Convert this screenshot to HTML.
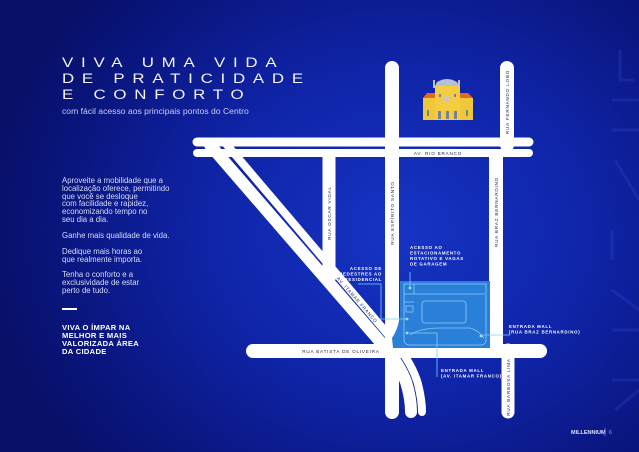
<!DOCTYPE html>
<html><head><meta charset="utf-8"><style>
body{margin:0;width:639px;height:452px;overflow:hidden;font-family:"Liberation Sans",sans-serif;}
#bg{position:absolute;left:0;top:0;width:639px;height:452px;background:radial-gradient(ellipse 420px 360px at 400px 230px,#1634c4 0%,#0f24a8 45%,#0a167f 80%,#070f66 100%);}
.t{position:absolute;color:#fff;white-space:nowrap}
.title{left:62px;font-size:13.5px;letter-spacing:6.2px;line-height:16px;font-weight:normal;transform:scaleX(1.25);transform-origin:left;color:#f2f3ff}
.p{left:62px;font-size:7.8px;line-height:7.8px;color:#d8dcf4}
</style></head><body>
<div id="bg"></div>
<svg width="639" height="452" style="position:absolute;left:0;top:0" font-family="Liberation Sans, sans-serif">
<g fill="none" stroke="#2a48d0" stroke-width="3" opacity="0.3">
<path d="M620 50 v30 h14 M612 100 h27 M612 130 h27 M615 160 l24 40 M612 230 v30 M612 290 l27 20 M612 330 h27 M612 380 h27 M615 410 l24 -20"/>
</g>
<g stroke="#fff" stroke-linecap="round" fill="none">
<line x1="197" y1="142" x2="529" y2="142" stroke-width="9"/>
<line x1="197" y1="153" x2="529" y2="153" stroke-width="8"/>
<line x1="329" y1="150" x2="329" y2="280" stroke-width="13" stroke-linecap="butt"/>
<line x1="392" y1="68" x2="392" y2="412" stroke-width="14"/>
<line x1="507" y1="68" x2="507" y2="145" stroke-width="14"/>
<line x1="496" y1="150" x2="496" y2="345" stroke-width="14" stroke-linecap="butt"/>
<line x1="508" y1="350" x2="508" y2="412" stroke-width="13"/>
<line x1="253" y1="351" x2="540" y2="351" stroke-width="14"/>
<path d="M210 145 L383 345 Q400 365 406 382 Q411 398 411 412" stroke-width="12"/>
<path d="M227 145 L397 345 Q413 366 418 384 Q422 400 422 412" stroke-width="8"/>
</g>
<path d="M400 281 H490 V348 H393 L392 338 Q400 326 400 310 Z" fill="#2a80d8"/>
<g fill="none" stroke="#8fc8f5" stroke-width="0.8">
<path d="M404 284 H486 V340 Q486 345 480 345 H410 Q404 345 404 339 Z"/>
<rect x="422" y="301" width="44" height="22" rx="3"/>
<path d="M414 284 V294 H485"/>
<path d="M404 294 H414 M404 302 H414 M406 306 H413 V312 H406 Z"/>
<path d="M410 335 Q420 328 440 328 H470 Q478 330 484 338"/>
</g>
<g stroke="#7fd0f5" stroke-width="0.8" fill="none">
<path d="M410 287 V272"/>
<path d="M358 284 H381 V319 H407"/>
<path d="M481 335 H510"/>
<path d="M407 333 H437 V377"/>
</g>
<g fill="#9fe0ff"><circle cx="410" cy="288" r="1.4"/><circle cx="407" cy="319" r="1.4"/><circle cx="407" cy="333" r="1.4"/><circle cx="481" cy="336" r="1.4"/></g>
<g>
<path d="M437 82 Q447 76 457 82 L459 86 H435 Z" fill="#b8c0d8"/>
<rect x="433" y="80" width="2" height="8" fill="#b8c0d8"/><rect x="458" y="80" width="2" height="8" fill="#b8c0d8"/>
<rect x="423" y="98" width="50" height="22" fill="#f0c63a"/>
<rect x="435" y="86" width="25" height="34" fill="#f3cc40"/>
<path d="M423 98 L427 93 H435 V98 Z M460 93 H468 L473 98 H460 Z" fill="#e06a20"/>
<circle cx="447" cy="99" r="3" fill="#c9c4d8"/>
<g fill="#7a7f98"><rect x="427" y="110" width="2" height="6"/><rect x="438" y="111" width="3" height="8"/><rect x="446" y="111" width="3" height="8"/><rect x="454" y="111" width="3" height="8"/><rect x="466" y="110" width="2" height="6"/><rect x="439" y="94" width="2" height="3"/><rect x="454" y="94" width="2" height="3"/></g>
</g>
<g font-size="4.6" fill="#1a2050" letter-spacing="0.8" text-anchor="middle">
<text x="438" y="155">AV. RIO BRANCO</text>
<text x="341" y="353">RUA BATISTA DE OLIVEIRA</text>
<text transform="translate(331,213) rotate(-90)">RUA OSCAR VIDAL</text>
<text transform="translate(394,213) rotate(-90)">RUA ESPÍRITO SANTO</text>
<text transform="translate(498,212) rotate(-90)">RUA BRAZ BERNARDINO</text>
<text transform="translate(509,102) rotate(-90)">RUA FERNANDO LOBO</text>
<text transform="translate(510,387) rotate(-90)">RUA BARBOSA LIMA</text>
<text transform="translate(356,301) rotate(49)">AV. ITAMAR FRANCO</text>
</g>
<g font-size="4.4" fill="#fff" letter-spacing="0.7" font-weight="bold">
<text x="410" y="249">ACESSO AO</text><text x="410" y="254.5">ESTACIONAMENTO</text><text x="410" y="260">ROTATIVO E VAGAS</text><text x="410" y="265.5">DE GARAGEM</text>
<g text-anchor="end"><text x="382" y="270">ACESSO DE</text><text x="382" y="275.5">PEDESTRES AO</text><text x="382" y="281">RESIDENCIAL</text></g>
<text x="509" y="328">ENTRADA MALL</text><text x="509" y="333.5">(RUA BRAZ BERNARDINO)</text>
<text x="441" y="372">ENTRADA MALL</text><text x="441" y="377.5">(AV. ITAMAR FRANCO)</text>
</g>
<text x="571" y="434" font-size="5.5" font-weight="bold" fill="#dfe3ff">MILLENNIUM</text>
<line x1="605" y1="428" x2="605" y2="436" stroke="#9aa8ff" stroke-width="0.6"/>
<text x="609" y="434" font-size="5" fill="#9aa8ff">6</text>
</svg>
<div class="t title" style="top:55px">VIVA UMA VIDA</div>
<div class="t title" style="top:71px">DE PRATICIDADE</div>
<div class="t title" style="top:87px">E CONFORTO</div>
<div class="t" style="left:62px;top:106px;font-size:8.6px;color:#c8cdf0">com fácil acesso aos principais pontos do Centro</div>
<div class="t p" style="top:177px">Aproveite a mobilidade que a<br>localização oferece, permitindo<br>que você se desloque<br>com facilidade e rapidez,<br>economizando tempo no<br>seu dia a dia.</div>
<div class="t p" style="top:232px">Ganhe mais qualidade de vida.</div>
<div class="t p" style="top:248px">Dedique mais horas ao<br>que realmente importa.</div>
<div class="t p" style="top:271px">Tenha o conforto e a<br>exclusividade de estar<br>perto de tudo.</div>
<div style="position:absolute;left:62px;top:308px;width:15px;height:2px;background:#fff"></div>
<div class="t" style="left:62px;top:324px;font-size:7.6px;line-height:8px;font-weight:bold;letter-spacing:0.3px">VIVA O ÍMPAR NA<br>MELHOR E MAIS<br>VALORIZADA ÁREA<br>DA CIDADE</div>
</body></html>
